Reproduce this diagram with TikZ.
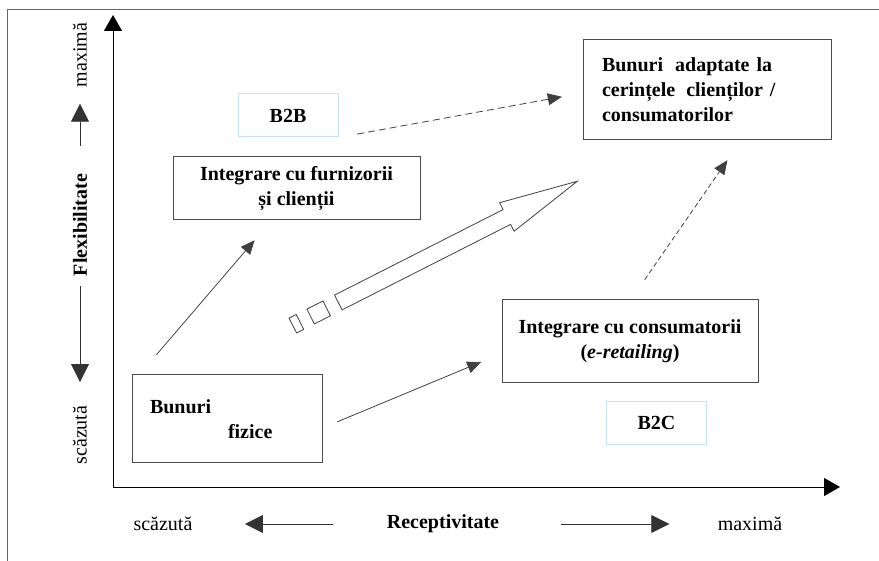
\documentclass[tikz,border=0pt]{standalone}
\usepackage{fontspec}
\setmainfont{Liberation Serif}
\usetikzlibrary{arrows.meta}
\definecolor{tagblue}{HTML}{C6E2F5}

\begin{document}
\begin{tikzpicture}[x=1pt,y=-1pt,
  font=\fontsize{20}{25}\selectfont,
  box/.style={draw=black!70, line width=1pt, inner sep=0pt,
    font=\fontsize{20}{25}\selectfont\bfseries},
  tag/.style={draw=tagblue, line width=1pt, inner sep=0pt,
    minimum width=100pt, minimum height=43pt,
    font=\fontsize{20}{25}\selectfont\bfseries},
  conn/.style={draw=black!75, line width=0.8pt,
    -{Triangle[length=14pt,width=12pt]}},
  dconn/.style={conn, dash pattern=on 7pt off 4pt},
  axis/.style={line width=1pt, -{Triangle[length=16pt,width=18pt]}},
  lbl/.style={draw=black!80, line width=0.8pt,
    -{Triangle[length=18pt,width=18pt]}}]
  \useasboundingbox (0,0) rectangle (879,561);
  \draw[black!60, line width=0.8pt] (7,561) -- (7,9) -- (879,9);

  \coordinate (O) at (113,487);
  \coordinate (ytop) at (113,15);
  \coordinate (xend) at (840,487);
  \draw[axis] (O) -- (ytop);
  \draw[axis] (O) -- (xend);

  \node[rotate=90] (maxv) at (80,55) {maximă};
  \node[rotate=90] (flex) at (80,225) {\bfseries Flexibilitate};
  \node[rotate=90] (scazv) at (80,435) {scăzută};
  \draw[lbl, shorten <=24pt, shorten >=13pt] (flex.east) -- (maxv.west);
  \draw[lbl, shorten <=6pt, shorten >=20pt] (flex.west) -- (scazv.east);

  \node (scazh) at (163,524) {scăzută};
  \node (rec) at (443,524) {\bfseries Receptivitate};
  \node (maxh) at (750,524) {maximă};
  \draw[lbl, shorten <=50pt, shorten >=49pt] (rec.west) -- (scazh.east);
  \draw[lbl, shorten <=58pt, shorten >=45pt] (rec.east) -- (maxh.west);

  \node[box, minimum width=190pt, minimum height=88pt, inner xsep=18pt,
    text width=154pt, align=left] (fizice) at (227,419)
    {Bunuri\\\hspace*{78pt}fizice};
  \node[box, minimum width=247pt, minimum height=63pt, align=center]
    (furn) at (296.5,188.5) {Integrare cu furnizorii\\și clienții};
  \node[tag] (b2b) at (288,115.5) {B2B};
  \node[box, minimum width=248pt, minimum height=100pt, inner xsep=19pt,
    text width=210pt, align=left] (adapt) at (707,90)
    {Bunuri\hspace{12pt}adaptate\hspace{7pt}la\\cerințele\hspace{11pt}clienților\hspace{7pt}/\\consumatorilor};
  \node[box, minimum width=256pt, minimum height=83pt, align=center]
    (cons) at (630,341.5) {Integrare cu consumatorii\\(\textit{e-retailing})};
  \node[tag] (b2c) at (656.5,423) {B2C};

  \draw[conn, shorten <=26pt, shorten >=26pt]
    ([xshift=8pt]fizice.north west) -- ([xshift=99pt]furn.south west);
  \draw[conn, shorten <=16pt, shorten >=22pt]
    ([yshift=-9pt]fizice.east) -- ([yshift=-12pt]cons.west);
  \draw[dconn, shorten <=19pt, shorten >=21pt]
    (b2b.south east) -- ([yshift=-3pt]adapt.west);
  \draw[dconn, dash pattern=on 5pt off 3pt, shorten <=24pt, shorten >=24pt]
    ([xshift=1pt]cons.north) -- ([xshift=34pt]adapt.south);

  \begin{scope}[shift={(338.3,302.5)}, rotate=26.9, black!75, line width=0.8pt]
    \draw (0,-8.3) -- (189,-8.3) -- (189,-16) -- (268,0) -- (189,16)
      -- (189,8.3) -- (0,8.3) -- cycle;
    \draw (-13,-8.3) rectangle (-31,8.3);
    \draw (-43,-8.3) rectangle (-51,8.3);
  \end{scope}
\end{tikzpicture}
\end{document}
